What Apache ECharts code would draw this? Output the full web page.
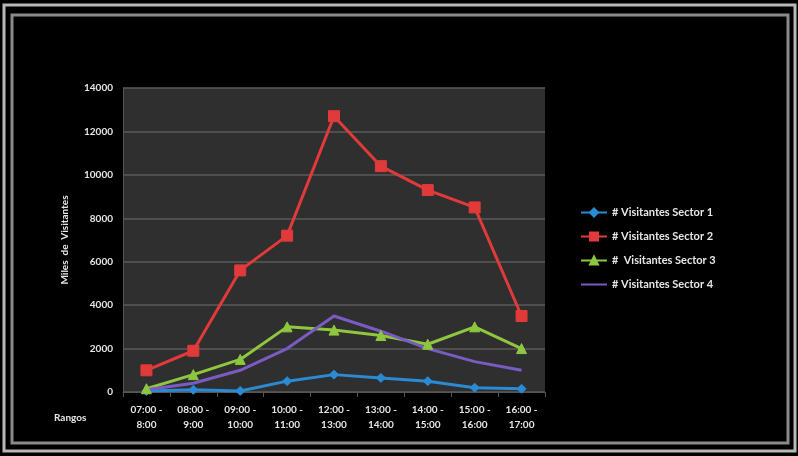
<!DOCTYPE html>
<html>
<head>
<meta charset="utf-8">
<script src="https://cdn.jsdelivr.net/npm/echarts@6/dist/echarts.min.js"></script>
<style>
  html, body { margin: 0; padding: 0; background: #000; }
  #chart { width: 798px; height: 456px; }
</style>
</head>
<body>
<div id="chart"></div>
<script>
// Time ranges (x axis)
const rangos = [
  '07:00 -\n8:00', '08:00 -\n9:00', '09:00 -\n10:00', '10:00 -\n11:00',
  '12:00 -\n13:00', '13:00 -\n14:00', '14:00 -\n15:00', '15:00 -\n16:00',
  '16:00 -\n17:00'
];

// Visitors per sector (thousands)
const sector1 = [50, 100, 50, 500, 800, 650, 500, 200, 150];
const sector2 = [1000, 1900, 5600, 7200, 12700, 10400, 9300, 8500, 3500];
const sector3 = [150, 800, 1500, 3000, 2850, 2600, 2200, 3000, 2000];
const sector4 = [100, 400, 1000, 2000, 3500, 2800, 2000, 1400, 1000];

const seriesNames = [
  '# Visitantes Sector 1',
  '# Visitantes Sector 2',
  '#  Visitantes Sector 3',
  '# Visitantes Sector 4'
];

const yTicks = { min: 0, max: 14000, interval: 2000 };

const chart = echarts.init(document.getElementById('chart'));

const labelFont = {
  color: '#e6e6e6',
  fontFamily: 'Lato',
  fontWeight: 'bold',
  fontSize: 10
};

function lineSeries(name, data, color, symbol, size) {
  return {
    name: name,
    type: 'line',
    data: data,
    symbol: symbol,
    symbolSize: size,
    showSymbol: symbol !== 'none',
    lineStyle: { color: color, width: 3 },
    itemStyle: { color: color, borderColor: color, borderWidth: 1 },
    emphasis: { disabled: true },
    animation: false
  };
}

chart.setOption({
  backgroundColor: '#000',
  graphic: [
    {
      type: 'rect',
      shape: { x: 4, y: 5, width: 791, height: 446 },
      style: { fill: 'none', stroke: '#b8b8b8', lineWidth: 3 },
      silent: true
    },
    {
      type: 'rect',
      shape: { x: 12, y: 15, width: 776, height: 428 },
      style: { fill: 'none', stroke: '#8a8a8a', lineWidth: 3 },
      silent: true
    },
    {
      type: 'text',
      left: 54,
      top: 413,
      style: {
        text: 'Rangos', fill: '#e6e6e6',
        fontFamily: 'Lato', fontWeight: 'bold', fontSize: 10
      },
      silent: true
    }
  ],
  grid: {
    left: 123,
    right: 253,
    top: 88,
    bottom: 64,
    show: true,
    backgroundColor: '#2e2f2e',
    borderWidth: 0
  },
  legend: {
    orient: 'vertical',
    left: 575,
    top: 202,
    itemWidth: 26,
    itemHeight: 10,
    itemGap: 13,
    textStyle: Object.assign({}, labelFont, { fontSize: 11 }),
    data: [
      { name: seriesNames[0] },
      { name: seriesNames[1] },
      { name: seriesNames[2] },
      { name: seriesNames[3], itemStyle: { opacity: 0 } }
    ]
  },
  xAxis: {
    type: 'category',
    data: rangos,
    boundaryGap: true,
    axisLine: { lineStyle: { color: '#555' } },
    axisTick: { show: true, alignWithLabel: false, lineStyle: { color: '#555' } },
    axisLabel: Object.assign({ margin: 10, lineHeight: 15, interval: 0 }, labelFont),
    splitLine: { show: false }
  },
  yAxis: {
    type: 'value',
    min: yTicks.min,
    max: yTicks.max,
    interval: yTicks.interval,
    name: 'Miles  de  Visitantes',
    nameLocation: 'middle',
    nameGap: 53,
    nameTextStyle: labelFont,
    axisLine: { show: true, lineStyle: { color: '#555' } },
    axisTick: { show: false },
    axisLabel: Object.assign({ margin: 10, formatter: v => String(v) }, labelFont),
    splitLine: { lineStyle: { color: '#5a5b5a', width: 1.5 } }
  },
  series: [
    lineSeries(seriesNames[0], sector1, '#2a8ad4', 'diamond', 9),
    lineSeries(seriesNames[1], sector2, '#e03a3a', 'rect', 11),
    lineSeries(seriesNames[2], sector3, '#8fc640', 'triangle', 10),
    lineSeries(seriesNames[3], sector4, '#7a5bc2', 'none', 0)
  ]
});
</script>
</body>
</html>
